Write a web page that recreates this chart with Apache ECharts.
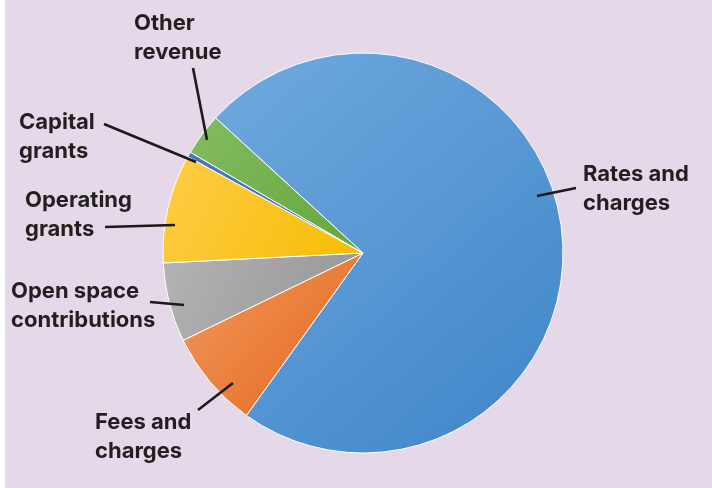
<!DOCTYPE html>
<html><head><meta charset="utf-8">
<script src="https://cdn.jsdelivr.net/npm/echarts@6/dist/echarts.min.js"></script>
<style>html,body{margin:0;padding:0;background:#fff}#c{width:712px;height:488px}</style>
</head><body><div id="c"></div>
<script>
const categories = ['Rates and\ncharges', 'Fees and\ncharges', 'Open space\ncontributions', 'Operating\ngrants', 'Capital\ngrants', 'Other\nrevenue'];
const values = [73.1, 7.9, 6.4, 8.8, 0.4, 3.4];

const gradients = [
  ['#70A9DF', '#3D85C8'],
  ['#F39A60', '#E2661A'],
  ['#B3B3B3', '#959595'],
  ['#FFCD4A', '#F6BC00'],
  ['#4A76C6', '#4472C4'],
  ['#84BC60', '#64A63C']
];
// label anchor [x, y] and leader line [[x1,y1],[x2,y2]]
const labelPos = [
  [583, 189, [[537,196],[576,188]]],
  [95, 437, [[233,383],[198,410]]],
  [11, 306, [[184,305],[150,302]]],
  [25, 215, [[175,225],[105,227]]],
  [19, 137, [[196,162],[104,124]]],
  [134, 38, [[207,140],[193,68]]]
];

const chart = echarts.init(document.getElementById('c'));
const graphics = [{type:'rect', left:0, top:0, z:1, shape:{width:5, height:488}, style:{fill:'#ffffff'}}];
labelPos.forEach(lp => {
  graphics.push({type:'polyline', z:100, shape:{points: lp[2]}, style:{stroke:'#1c1a1b', lineWidth:2.6, fill:null}});
});
chart.setOption({
  backgroundColor: '#E4D8E9',
  animation: false,
  graphic: graphics,
  series: [{
    type: 'pie',
    center: [363, 253],
    radius: 200,
    startAngle: 137.5,
    clockwise: true,
    avoidLabelOverlap: false,
    itemStyle: {borderColor: '#ffffff', borderWidth: 1},
    label: {
      show: true,
      color: '#231F20',
      fontFamily: 'Inter',
      fontWeight: 'bold',
      fontSize: 22,
      lineHeight: 29,
      align: 'left'
    },
    labelLine: {show: false},
    labelLayout: function (p) {
      const lp = labelPos[p.dataIndex];
      return {x: lp[0], y: lp[1], align: 'left', verticalAlign: 'middle'};
    },
    data: categories.map((n, i) => ({
      name: n,
      value: values[i],
      itemStyle: {
        color: new echarts.graphic.LinearGradient(0, 0, 1, 1, [
          {offset: 0, color: gradients[i][0]},
          {offset: 1, color: gradients[i][1]}
        ])
      }
    }))
  }]
});
</script></body></html>
